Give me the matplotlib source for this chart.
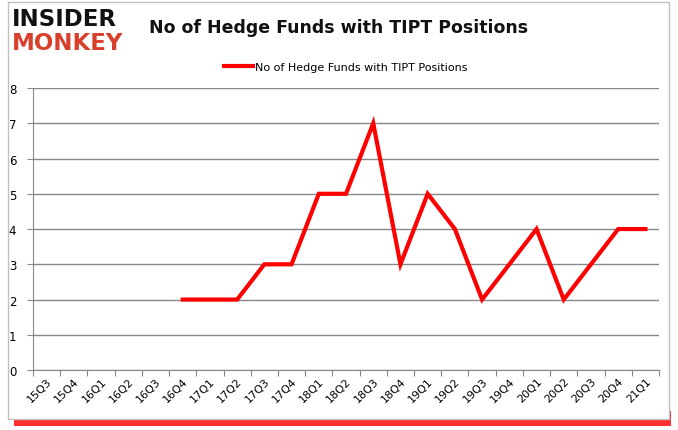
import matplotlib
matplotlib.use("Agg")
import matplotlib.pyplot as plt
from matplotlib.patches import Rectangle

# Quarter labels and hedge fund counts (None = no data)
quarters = ["15Q3", "15Q4", "16Q1", "16Q2", "16Q3", "16Q4", "17Q1", "17Q2",
            "17Q3", "17Q4", "18Q1", "18Q2", "18Q3", "18Q4", "19Q1", "19Q2",
            "19Q3", "19Q4", "20Q1", "20Q2", "20Q3", "20Q4", "21Q1"]
funds = [None, None, None, None, None, 2, 2, 2,
         3, 3, 5, 5, 7, 3, 5, 4,
         2, 3, 4, 2, 3, 4, 4]
yticks = [0, 1, 2, 3, 4, 5, 6, 7, 8]

fig = plt.figure(figsize=(6.78, 4.31), dpi=100)

# outer frame with red shadow at the bottom
fig.patches.append(Rectangle((0.02, 0.01), 0.97, 0.035, transform=fig.transFigure,
                             facecolor="#ff3030", edgecolor="none", zorder=-3))
fig.patches.append(Rectangle((0.012, 0.025), 0.975, 0.969, transform=fig.transFigure,
                             facecolor="white", edgecolor="#c0c0c0", linewidth=1, zorder=-2))

ax = fig.add_axes([0.0487, 0.139, 0.9233, 0.6545])

xs = [i + 0.5 for i, v in enumerate(funds) if v is not None]
ys = [v for v in funds if v is not None]
ax.plot(xs, ys, color="#ff0000", linewidth=3,
        label="No of Hedge Funds with TIPT Positions", solid_joinstyle="miter")

ax.set_xlim(0, len(quarters))
ax.set_ylim(0, 8)
ax.set_yticks(yticks)
ax.set_yticklabels([str(t) for t in yticks], fontsize=8.5)
ax.set_xticks(range(len(quarters) + 1))
ax.set_xticklabels([])
ax.set_xticks([i + 0.5 for i in range(len(quarters))], minor=True)
ax.set_xticklabels(quarters, minor=True, rotation=45, fontsize=8, ha="right",
                   va="top", rotation_mode="anchor")
ax.tick_params(axis="x", which="minor", length=0, pad=4)
ax.tick_params(axis="x", which="major", length=4, color="#888888")
ax.tick_params(axis="y", length=4, color="#888888", pad=8)

ax.grid(axis="y", color="#888888", linewidth=1)
ax.set_axisbelow(True)
for side in ["top", "right"]:
    ax.spines[side].set_visible(False)
for side in ["left", "bottom"]:
    ax.spines[side].set_color("#888888")

ax.legend(loc="lower center", bbox_to_anchor=(0.5, 1.02), frameon=False,
          fontsize=8, handlelength=2.6, handletextpad=0.2)

fig.text(0.5, 0.935, "No of Hedge Funds with TIPT Positions", ha="center",
         va="center", fontsize=12.5, fontweight="bold", color="#111111")

# logo
fig.text(0.018, 0.955, "INSIDER", fontsize=16.5, fontweight="heavy", color="#111111",
         va="center", ha="left")
fig.text(0.018, 0.9, "MONKEY", fontsize=16.5, fontweight="heavy", color="#d9402b",
         va="center", ha="left")

fig.savefig("out.png", dpi=100)
